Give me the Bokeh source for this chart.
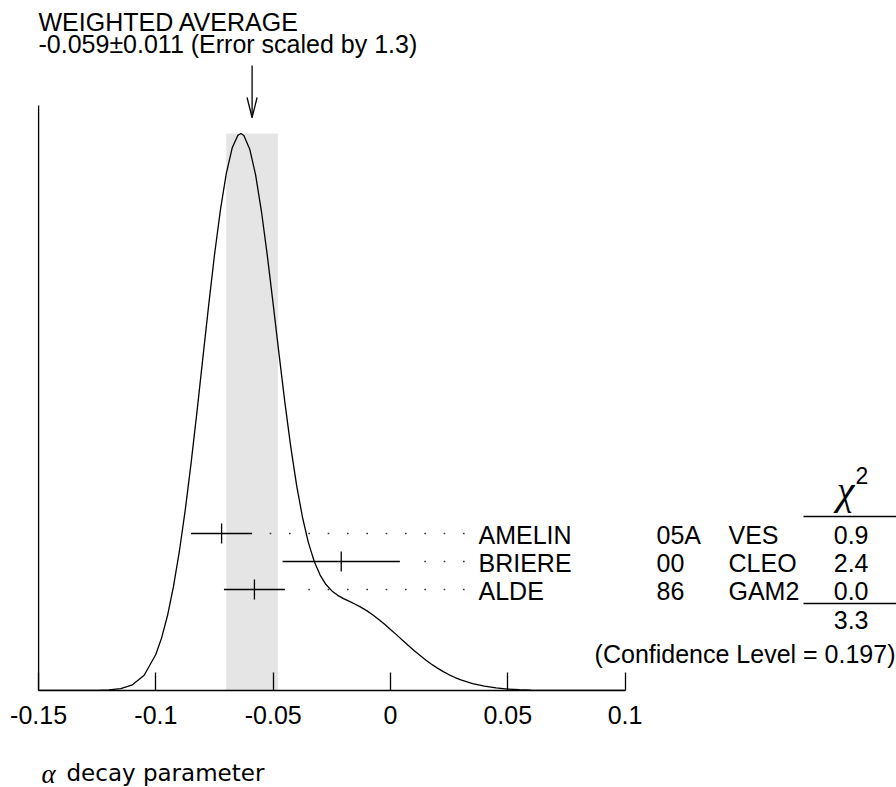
from bokeh.plotting import figure
from bokeh.layouts import column
from bokeh.models import Range1d, FixedTicker, ColumnDataSource
from bokeh.core.properties import value
from bokeh.embed import file_html
from bokeh.resources import INLINE

# ---------------- data ----------------
names = ["AMELIN", "BRIERE", "ALDE"]
years = ["05A", "00", "86"]
experiments = ["VES", "CLEO", "GAM2"]
meas_values = [-0.072, -0.021, -0.058]
meas_errors = [0.013, 0.025, 0.013]
chi2_values = ["0.9", "2.4", "0.0"]
chi2_total = "3.3"
confidence_level = "0.197"
avg_value = -0.059
avg_error = 0.011
error_scale = "1.3"

curve_x = [-0.15, -0.14, -0.13, -0.125, -0.12, -0.115, -0.11, -0.105, -0.1,
           -0.0975, -0.095, -0.0925, -0.09, -0.0875, -0.085, -0.0825, -0.08,
           -0.0775, -0.075, -0.0725, -0.07, -0.0675, -0.065, -0.06375,
           -0.0625, -0.06, -0.0575, -0.055, -0.0525, -0.05, -0.0475, -0.045,
           -0.0425, -0.04, -0.0375, -0.035, -0.0325, -0.03, -0.0275, -0.025,
           -0.0225, -0.02, -0.0175, -0.015, -0.0125, -0.01, -0.0075, -0.005,
           -0.0025, 0.0, 0.0025, 0.005, 0.0075, 0.01, 0.0125, 0.015, 0.0175,
           0.02, 0.0225, 0.025, 0.0275, 0.03, 0.035, 0.04, 0.045, 0.05, 0.055,
           0.06, 0.07, 0.08, 0.09, 0.1]
curve_y = [0.0000, 0.0000, 0.0001, 0.0002, 0.0010, 0.0033, 0.0102, 0.0274, 0.0650,
           0.0954, 0.1355, 0.1868, 0.2496, 0.3239, 0.4082, 0.5001, 0.5962,
           0.6920, 0.7828, 0.8630, 0.9281, 0.9739, 0.9972, 1.0000,
           0.9965, 0.9719, 0.9257, 0.8599, 0.7807, 0.6932, 0.6035, 0.5165,
           0.4370, 0.3679, 0.3106, 0.2655, 0.2316, 0.2072, 0.1902, 0.1788,
           0.1709, 0.1650, 0.1600, 0.1548, 0.1492, 0.1429, 0.1356, 0.1276,
           0.1189, 0.1097, 0.1003, 0.0907, 0.0812, 0.0720, 0.0632, 0.0549, 0.0472,
           0.0402, 0.0338, 0.0282, 0.0233, 0.0191, 0.0123, 0.0077, 0.0046, 0.0026, 0.0015,
           0.0008, 0.0002, 0.0000, 0.0000, 0.0000]

x_ticks = [-0.15, -0.1, -0.05, 0.0, 0.05, 0.1]
x_tick_labels = ["-0.15", "-0.1", "-0.05", "0", "0.05", "0.1"]
x_title_symbol = "α"
x_title_text = "decay parameter"

# ---------------- layout helpers (canvas pixels -> data units) ----------------
PX_PER_X = 2346.0    # pixels per unit of alpha
X_ZERO = 390.0       # canvas x of alpha = 0
BASE = 690.0         # canvas y of the baseline
PX_PER_Y = 557.0     # pixels per unit of curve height
W, H = 896, 787
H1 = 740             # height of the main figure; the rest holds the axis title


def X(px):
    return (px - X_ZERO) / PX_PER_X


def Y(py):
    return (BASE - py) / PX_PER_Y


FONT = value("Liberation Sans")
FS = "25px"
TXT = dict(text_font=FONT, text_font_size=FS, text_baseline="middle",
           text_color="black")

p = figure(width=W, height=H1, output_backend="svg", toolbar_location=None,
           x_range=Range1d(X(0), X(W)), y_range=Range1d(0, Y(0)),
           y_axis_location=None,
           min_border_left=0, min_border_right=0, min_border_top=0,
           min_border_bottom=int(H1 - BASE))
p.outline_line_color = None
p.xgrid.visible = False
p.ygrid.visible = False
p.background_fill_color = "white"
p.border_fill_color = "white"

ax = p.xaxis[0]
ax.ticker = FixedTicker(ticks=x_ticks)
ax.major_label_overrides = {t: l for t, l in zip(x_ticks, x_tick_labels)}
ax.bounds = (x_ticks[0], x_ticks[-1])
ax.major_tick_in = 18
ax.major_tick_out = 0
ax.minor_tick_in = 0
ax.minor_tick_out = 0
ax.axis_line_width = 1.3
ax.major_tick_line_width = 1.3
ax.major_label_text_font = "Liberation Sans"
ax.major_label_text_font_size = FS
ax.major_label_text_color = "black"
ax.major_label_standoff = 15

# weighted-average band
p.quad(left=[avg_value - avg_error], right=[avg_value + avg_error],
       bottom=[0], top=[max(curve_y)], fill_color="#e5e5e5", line_color=None)

# ideogram curve
p.line(curve_x, curve_y, line_color="black", line_width=1.3)

# left axis line
p.segment(x0=[x_ticks[0]], y0=[0], x1=[x_ticks[0]], y1=[Y(105)],
          line_color="black", line_width=1.3)

# measurements
n = len(names)
row_y = [Y(533 + 28 * i) for i in range(n)]
tick_h = 10 / PX_PER_Y
p.segment(x0=[v - e for v, e in zip(meas_values, meas_errors)],
          x1=[v + e for v, e in zip(meas_values, meas_errors)],
          y0=row_y, y1=row_y, line_color="black", line_width=1.3)
p.segment(x0=meas_values, x1=meas_values,
          y0=[y - tick_h for y in row_y], y1=[y + tick_h for y in row_y],
          line_color="black", line_width=1.3)

# dotted leaders
dot_last = X(463.3)
dot_step = 19.33 / PX_PER_X
dx, dy = [], []
for i in range(n):
    end = meas_values[i] + meas_errors[i]
    k = 0
    while dot_last - k * dot_step > end + 10 / PX_PER_X:
        dx.append(dot_last - k * dot_step)
        dy.append(row_y[i])
        k += 1
p.scatter(dx, dy, marker="square", size=1.6, fill_color="#333333", line_color=None)

# table text (vertically centred on the rows)
text_mid = [Y(534 + 28 * i) for i in range(n)]
src = ColumnDataSource(dict(name=names, year=years, exp=experiments,
                            chi=chi2_values, y=text_mid))
p.text(x=X(478), y="y", text="name", source=src, text_align="left", **TXT)
p.text(x=X(656), y="y", text="year", source=src, text_align="left", **TXT)
p.text(x=X(728), y="y", text="exp", source=src, text_align="left", **TXT)
p.text(x=X(868), y="y", text="chi", source=src, text_align="right", **TXT)

# chi^2 header
p.text(x=[X(845)], y=[Y(490)], text=["χ"], text_font=value("Liberation Serif"),
       text_font_style="italic", text_font_size="40px", text_align="center",
       text_baseline="middle", text_color="black")
p.text(x=[X(855)], y=[Y(475)], text=["2"], text_font=FONT,
       text_font_size="23px", text_align="left", text_baseline="middle",
       text_color="black")
p.segment(x0=[X(803), X(803)], x1=[X(896), X(896)], y0=[Y(516), Y(603)],
          y1=[Y(516), Y(603)], line_color="black", line_width=1.3)
p.text(x=[X(868)], y=[Y(619)], text=[chi2_total], text_align="right", **TXT)
p.text(x=[X(895)], y=[Y(653)], text=[f"(Confidence Level = {confidence_level})"],
       text_align="right", **TXT)

# weighted-average header and arrow
p.text(x=[X(38), X(38)], y=[Y(21.5), Y(43)],
       text=["WEIGHTED AVERAGE",
             f"{avg_value:.3f}\u00b1{avg_error:.3f} (Error scaled by {error_scale})"],
       text_align="left", **TXT)
ah = 5 / PX_PER_X
p.segment(x0=[avg_value, avg_value, avg_value], y0=[Y(65), Y(117), Y(117)],
          x1=[avg_value, avg_value - ah, avg_value + ah], y1=[Y(117), Y(97), Y(97)],
          line_color="black", line_width=1.3)

# ---------------- strip below holding the x-axis title ----------------
p2 = figure(width=W, height=H - H1, output_backend="svg", toolbar_location=None,
            x_range=p.x_range, y_range=Range1d(H, H1),
            x_axis_location=None, y_axis_location=None,
            min_border_left=0, min_border_right=0, min_border_top=0,
            min_border_bottom=0)
p2.outline_line_color = None
p2.xgrid.visible = False
p2.ygrid.visible = False
p2.background_fill_color = "white"
p2.border_fill_color = "white"
p2.text(x=[X(41)], y=[773], text=[x_title_symbol], text_font=value("Liberation Serif"),
        text_font_style="italic", text_font_size="27px", text_align="left",
        text_baseline="middle", text_color="black")
p2.text(x=[X(66)], y=[772], text=[x_title_text], text_font=value("DejaVu Sans"),
        text_font_size="23px", text_align="left", text_baseline="middle",
        text_color="black")

layout = column(p, p2, spacing=0)
open("out.html", "w").write(file_html(layout, INLINE))
